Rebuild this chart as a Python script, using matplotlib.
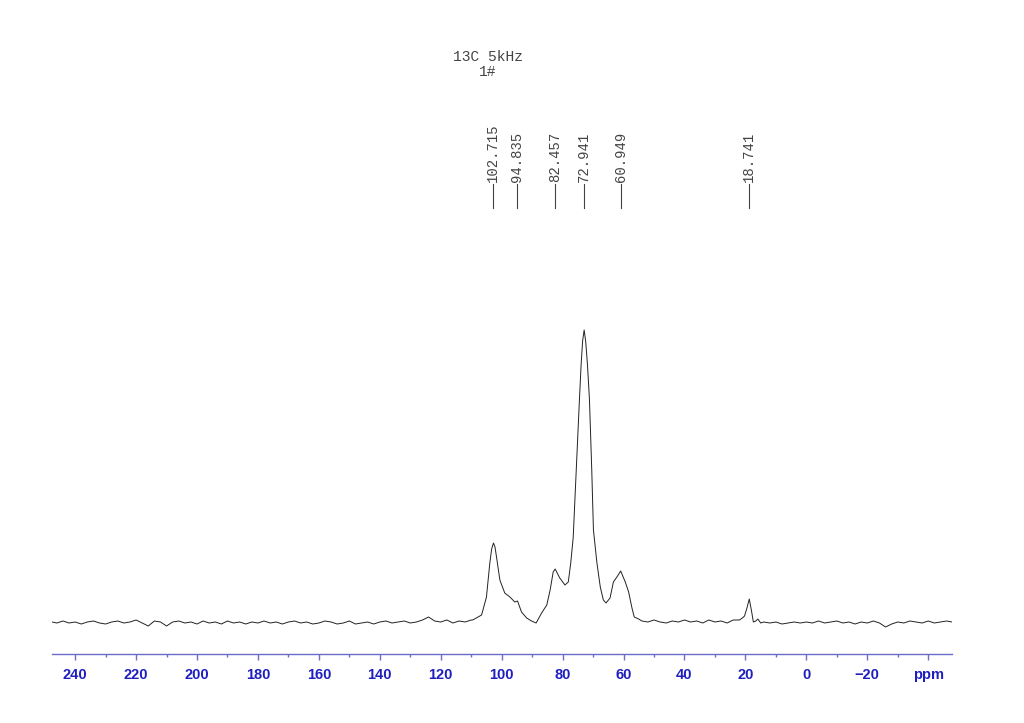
#!/usr/bin/env python3

import matplotlib
matplotlib.use("Agg")
import matplotlib.pyplot as plt
from matplotlib.transforms import blended_transform_factory

# baseline left of the carbohydrate region (ppm, intensity)
left_ppm = [247.6, 246, 244, 242, 240, 238, 236, 234, 232, 230, 228, 226, 224, 222,
            220, 218, 216, 214, 212, 210, 208, 206, 204, 202, 200, 198, 196, 194,
            192, 190, 188, 186, 184, 182, 180, 178, 176, 174, 172, 170, 168, 166,
            164, 162, 160, 158, 156, 154, 152, 150, 148, 146, 144, 142, 140, 138,
            136, 134, 132, 130, 128, 126, 124, 122, 120, 118, 116, 114, 112, 110]
left_int = [1, 0, 2, 0, 1, -1, 1, 2, 0, -1, 1, 2, 0, 1,
            3, 0, -3, 2, 1, -3, 1, 2, 0, 1, -1, 2, 0, 1,
            -1, 2, 0, 1, -1, 1, 0, 2, 0, 1, -1, 1, 2, 0,
            1, -1, 0, 2, 1, -1, 0, 2, -1, 0, 1, -1, 1, 2,
            0, 1, 2, 0, 1, 3, 6, 2, 1, 3, 0, 2, 1, 3]

# peak region 110 - 55 ppm
peak_ppm = [109.5, 106.6, 105.0, 103.9, 103.3, 102.7, 102.2, 101.7, 100.6, 99.0,
            97.3, 95.7, 94.8, 93.5, 91.8, 90.2, 88.7, 86.9, 85.2, 84.1, 83.1,
            82.46, 80.94, 79.24, 78.14, 77.34, 76.54, 75.54, 74.49, 73.94, 73.44,
            72.94, 72.44, 71.84, 71.19, 70.44, 69.89, 68.74, 67.64, 66.64, 65.74,
            64.44, 63.34, 62.19, 60.94, 59.44, 58.34, 57.24, 56.49, 55.04]
peak_int = [3, 8, 26, 60, 74, 80, 76, 66, 43, 30,
            26, 21, 22, 11, 5, 2, 0, 10, 18, 33, 51,
            54, 45, 38, 41, 60, 85, 153, 223, 258, 282,
            293, 282, 258, 223, 153, 93, 60, 36, 23, 20,
            25, 41, 46, 52, 41, 31, 15, 6, 4]

# baseline right, incl. the small 18.7 ppm line
right_ppm = [54, 52, 50, 48, 46, 44, 42, 40, 38, 36, 34, 32, 30, 28, 26, 24, 22,
             21, 20.3, 19.5, 18.74, 18.0, 17.4, 16.6, 15.9, 15.0,
             14, 12, 10, 8, 6, 4, 2, 0, -2, -4, -6, -8, -10, -12, -14, -16, -18,
             -20, -22, -24, -26, -28, -30, -32, -34, -36, -38, -40, -42, -44,
             -46, -47.8]
right_int = [2, 1, 3, 1, 0, 2, 1, 3, 1, 2, 0, 3, 1, 2, 0, 3, 3,
             5, 7, 15, 24, 12, 1, 2, 4, 0,
             1, 0, 1, -1, 0, 1, 0, 1, 0, 2, 0, 1, 2, 0, 1, -1, 1,
             0, 2, 0, -4, -1, 1, 0, 2, 1, 0, 2, 0, 1,
             2, 1]

peak_labels = [102.715, 94.835, 82.457, 72.941, 60.949, 18.741]

major_ticks = [240, 220, 200, 180, 160, 140, 120, 100, 80, 60, 40, 20, 0, -20, -40]
tick_labels = ["240", "220", "200", "180", "160", "140", "120", "100", "80",
               "60", "40", "20", "0", "\u221220", "ppm"]
minor_ticks = [230, 210, 190, 170, 150, 130, 110, 90, 70, 50, 30, 10, -10, -30]


def main():
    W, H = 1024, 723
    fig = plt.figure(figsize=(W / 100, H / 100), dpi=100)
    ax = fig.add_axes([52 / W, (H - 654) / H, 900 / W, (654 - 100) / H])

    ppm = left_ppm + peak_ppm + right_ppm
    inten = left_int + peak_int + right_int
    ax.plot(ppm, inten, color="#222222", linewidth=0.7)

    ax.set_xlim(247.6, -47.8)
    ax.set_ylim(-31, 523)

    for s in ["top", "left", "right"]:
        ax.spines[s].set_visible(False)
    axis_col = "#6b6bc9"
    ax.spines["bottom"].set_color(axis_col)
    ax.spines["bottom"].set_linewidth(1.0)
    ax.set_yticks([])

    ax.set_xticks(major_ticks)
    ax.set_xticklabels(tick_labels, fontfamily="Liberation Sans", fontweight="bold",
                       fontsize=10.5, color="#1f1fbf")
    ax.set_xticks(minor_ticks, minor=True)
    ax.tick_params(axis="x", which="major", direction="out", length=4, width=1,
                   color=axis_col, pad=6)
    ax.tick_params(axis="x", which="minor", direction="out", length=2.5, width=1,
                   color=axis_col)

    # peak picking labels
    tr = blended_transform_factory(ax.transData, fig.transFigure)
    for p in peak_labels:
        ax.plot([p, p], [(H - 208) / H, (H - 184) / H], transform=tr,
                color="#444444", linewidth=0.8, clip_on=False)
        ax.text(p, (H - 182) / H, f"{p:.3f}", transform=tr, rotation=90,
                ha="center", va="bottom", fontfamily="Liberation Mono",
                fontsize=10, color="#444444")

    fig.text(488 / W, (H - 57) / H, "13C 5kHz", ha="center", va="center",
             fontfamily="Liberation Mono", fontsize=10.5, color="#444444")
    fig.text(488 / W, (H - 72) / H, "1#", ha="center", va="center",
             fontfamily="Liberation Mono", fontsize=10.5, color="#444444")

    fig.savefig("out.png", dpi=100)
    plt.close(fig)


if __name__ == "__main__":
    main()
